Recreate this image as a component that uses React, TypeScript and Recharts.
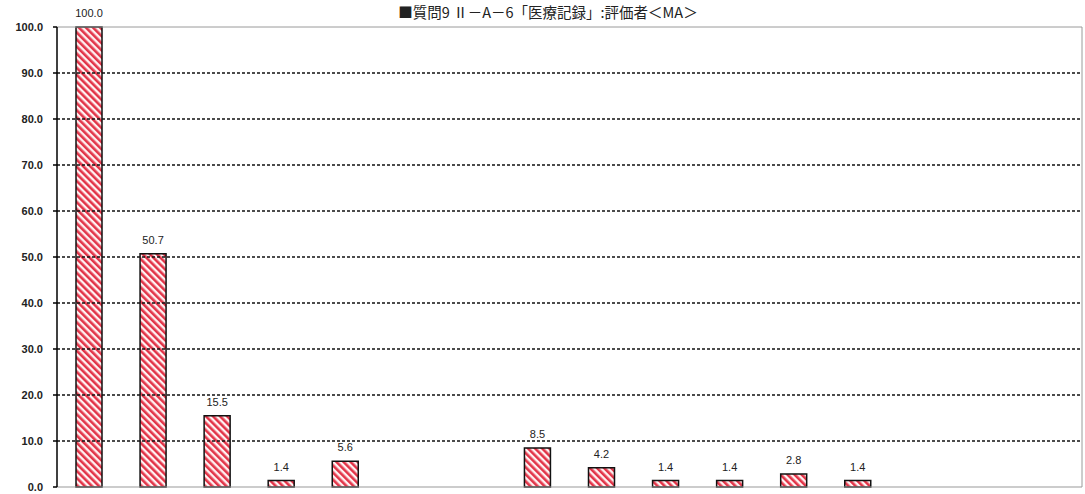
import React from "react";
import {
  BarChart,
  Bar,
  XAxis,
  YAxis,
  ReferenceLine,
  LabelList,
} from "recharts";

const categories = [
  "1", "2", "3", "4", "5", "6", "7", "8",
  "9", "10", "11", "12", "13", "14", "15", "16",
];
const values: (number | null)[] = [
  100, 50.7, 15.5, 1.4, 5.6, null, null, 8.5,
  4.2, 1.4, 1.4, 2.8, 1.4, null, null, null,
];
const yTicks = [0, 10, 20, 30, 40, 50, 60, 70, 80, 90, 100];
const gridValues = [10, 20, 30, 40, 50, 60, 70, 80, 90];

const title = "■質問9 Ⅱ－A－6「医療記録」:評価者＜MA＞";

const data = categories.map((name, i) => ({ name, value: values[i] }));

export default function App() {
  return (
    <div
      style={{
        position: "absolute",
        left: 0,
        top: 0,
        width: 1085,
        height: 494,
        background: "#fff",
        fontFamily: "'Liberation Sans', Arial, sans-serif",
      }}
    >
      <svg width={0} height={0} style={{ position: "absolute" }}>
        <defs>
          <pattern
            id="stripes"
            patternUnits="userSpaceOnUse"
            width={5}
            height={10}
            patternTransform="rotate(-45)"
          >
            <rect x={0} y={0} width={5} height={10} fill="#fff2f2" />
            <rect x={0} y={0} width={2.6} height={10} fill="#e23448" />
          </pattern>
        </defs>
      </svg>
      <div
        style={{
          position: "absolute",
          left: 0,
          top: 1,
          width: 1096,
          textAlign: "center",
          fontSize: 14.5,
          lineHeight: "22px",
          color: "#222",
          fontFamily: "'Noto Sans CJK JP', sans-serif",
        }}
      >
        {title}
      </div>
      <BarChart
        width={1085}
        height={494}
        data={data}
        margin={{ top: 27, right: 2, bottom: 7, left: 0 }}
        barSize={26}
      >
        <XAxis dataKey="name" hide />
        <YAxis
          yAxisId="left"
          domain={[0, 100]}
          ticks={yTicks}
          width={57}
          interval={0}
          tickFormatter={(v: number) => v.toFixed(1)}
          tick={{ fontSize: 11, fill: "#222", fontWeight: "bold" }}
          axisLine={{ stroke: "#000", strokeWidth: 1.5 }}
          tickLine={{ stroke: "#000", strokeWidth: 1.5 }}
          tickSize={4}
          tickMargin={10}
        />
        <YAxis
          yAxisId="right"
          orientation="right"
          domain={[0, 100]}
          width={1}
          tick={false}
          tickLine={false}
          axisLine={{ stroke: "#9a9a9a", strokeWidth: 1 }}
        />
        <ReferenceLine yAxisId="left" y={100} stroke="#9a9a9a" strokeWidth={1} />
        <ReferenceLine yAxisId="left" y={0} stroke="#9a9a9a" strokeWidth={1.2} />
        {gridValues.map((v) => (
          <ReferenceLine
            key={v}
            yAxisId="left"
            y={v}
            stroke="#111"
            strokeWidth={1.3}
            strokeDasharray="3 2"
          />
        ))}
        <Bar
          yAxisId="left"
          dataKey="value"
          fill="url(#stripes)"
          stroke="#111"
          strokeWidth={1.5}
          isAnimationActive={false}
        >
          <LabelList
            dataKey="value"
            position="top"
            offset={10}
            formatter={(v: any) => (v == null ? "" : Number(v).toFixed(1))}
            style={{ fontSize: 11, fill: "#222" }}
          />
        </Bar>
      </BarChart>
    </div>
  );
}
